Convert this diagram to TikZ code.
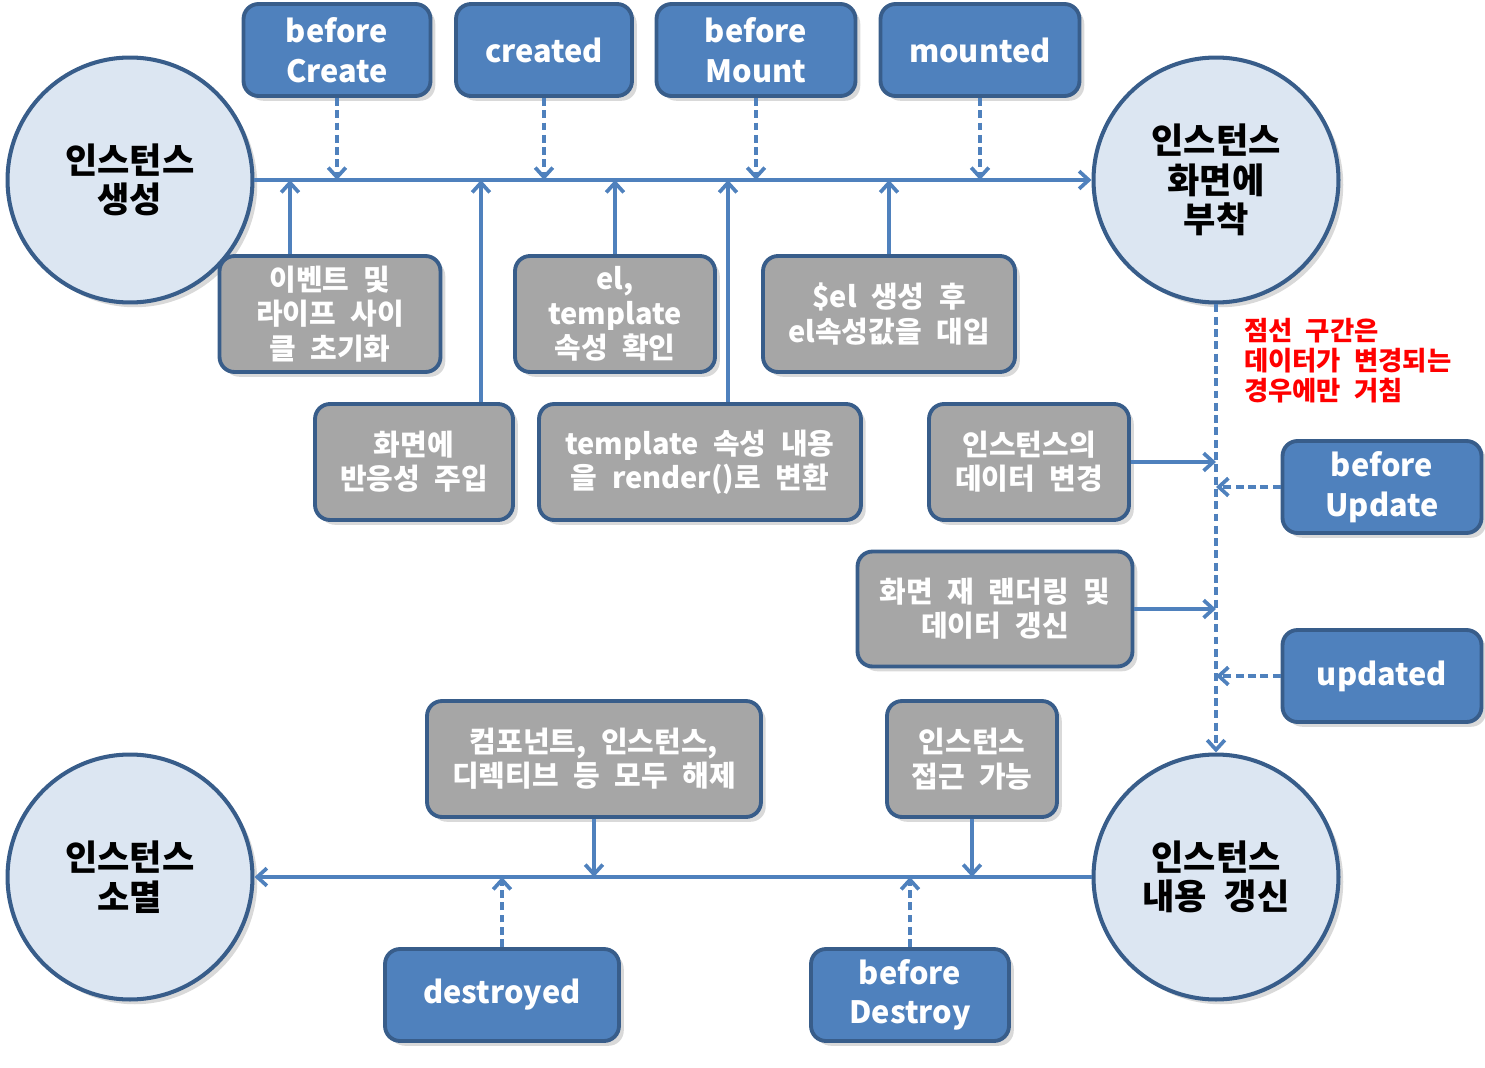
\documentclass[tikz,border=0pt]{standalone}
\usepackage{fontspec}
\setmainfont{Noto Sans CJK KR}[WordSpace=2.2]
\usetikzlibrary{arrows.meta,positioning,shadows}

\definecolor{hookblue}{HTML}{4F81BD}
\definecolor{hookedge}{HTML}{385D8A}
\definecolor{stagefill}{HTML}{DCE6F2}
\definecolor{taskgray}{HTML}{A6A6A6}

\begin{document}
\begin{tikzpicture}[x=0.02cm, y=-0.02cm,
  stage/.style={circle, draw=hookedge, line width=2.3pt, fill=stagefill, minimum size=4.9cm,
    align=center, font=\fontsize{20}{22.5}\selectfont\bfseries, drop shadow={opacity=0.3}},
  hookbox/.style={draw=hookedge, line width=2.2pt, rounded corners=0.3cm, fill=hookblue, text=white,
    minimum height=1.84cm, align=center, font=\fontsize{17.5}{22.5}\selectfont\bfseries, drop shadow={opacity=0.3}},
  task/.style={draw=hookedge, line width=2.2pt, rounded corners=0.3cm, fill=taskgray, text=white,
    minimum height=2.32cm, align=center, font=\fontsize{16.5}{19.5}\selectfont\bfseries, drop shadow={opacity=0.3}},
  flow/.style={draw=hookblue, line width=2.1pt, -{Straight Barb[length=5.5pt, width=10pt]}},
  hook/.style={flow, dash pattern=on 4.5pt off 2.5pt}]
  \useasboundingbox (0,0) rectangle (1485,1068);

  % lifecycle stages
  \node[stage] (crt) at (130,180) {인스턴스\\생성};
  \node[stage] (mnt) at (1216,180) {인스턴스\\화면에\\부착};
  \node[stage] (upd) at (1216,877) {인스턴스\\내용 갱신};
  \node[stage] (dst) at (130,877) {인스턴스\\소멸};

  % hooks
  \node[hookbox, minimum width=3.74cm] (bc) at (337,50) {before\\Create};
  \node[hookbox, minimum width=3.52cm] (cd) at (544,50) {created};
  \node[hookbox, minimum width=3.98cm] (bm) at (756,50) {before\\Mount};
  \node[hookbox, minimum width=3.98cm] (md) at (980,50) {mounted};
  \node[hookbox, minimum width=3.98cm] (bu) at (1382,487) {before\\Update};
  \node[hookbox, minimum width=3.98cm] (ud) at (1382,676) {updated};
  \node[hookbox, minimum width=4.68cm] (dsd) at (502,995) {destroyed};
  \node[hookbox, minimum width=3.96cm] (bd) at (910,995) {before\\Destroy};

  % internal steps
  \node[task, minimum width=4.42cm] (ini) at (330,314) {이벤트 및\\라이프 사이\\클 초기화};
  \node[task, minimum width=4.00cm] (tpl) at (615,314) {el,\\template\\속성 확인};
  \node[task, minimum width=5.04cm] (ell) at (889,314) {\$el 생성 후\\el속성값을 대입};
  \node[task, minimum width=3.96cm] (rea) at (414,462) {화면에\\반응성 주입};
  \node[task, minimum width=6.44cm] (ren) at (700,462) {template 속성 내용\\을 render()로 변환};
  \node[task, minimum width=4.00cm] (chg) at (1029,462) {인스턴스의\\데이터 변경};
  \node[task, minimum width=5.50cm, minimum height=2.30cm] (rdr) at (995,609) {화면 재 랜더링 및\\데이터 갱신};
  \node[task, minimum width=6.68cm] (tdn) at (594,759) {컴포넌트, 인스턴스,\\디렉티브 등 모두 해제};
  \node[task, minimum width=3.40cm] (acc) at (972,759) {인스턴스\\접근 가능};

  \node[anchor=north west, align=left, text=red, font=\fontsize{15}{17}\selectfont\bfseries] (note) at (1238,312)
    {점선 구간은\\데이터가 변경되는\\경우에만 거침};

  % main flow
  \draw[flow] (crt) -- (mnt);
  \draw[hook] (mnt) -- (upd);
  \draw[flow] (upd) -- (dst);

  % hooks into the flow
  \foreach \h in {bc,cd,bm,md} \draw[hook] (\h) -- (\h |- crt);
  \foreach \h in {bu,ud} \draw[hook] (\h) -- (\h -| mnt);
  \foreach \h in {dsd,bd} \draw[hook] (\h) -- (\h |- upd);

  % steps into the flow
  \draw[flow] ([xshift=-0.8cm]ini.north) -- ([xshift=-0.8cm]ini.north |- crt);
  \draw[flow] (tpl) -- (tpl |- crt);
  \draw[flow] (ell) -- (ell |- crt);
  \draw[flow] ([xshift=1.34cm]rea.north) -- ([xshift=1.34cm]rea.north |- crt);
  \draw[flow] ([xshift=0.56cm]ren.north) -- ([xshift=0.56cm]ren.north |- crt);
  \draw[flow] (chg) -- (chg -| mnt);
  \draw[flow] (rdr) -- (rdr -| mnt);
  \draw[flow] (tdn) -- (tdn |- upd);
  \draw[flow] (acc) -- (acc |- upd);
\end{tikzpicture}
\end{document}
